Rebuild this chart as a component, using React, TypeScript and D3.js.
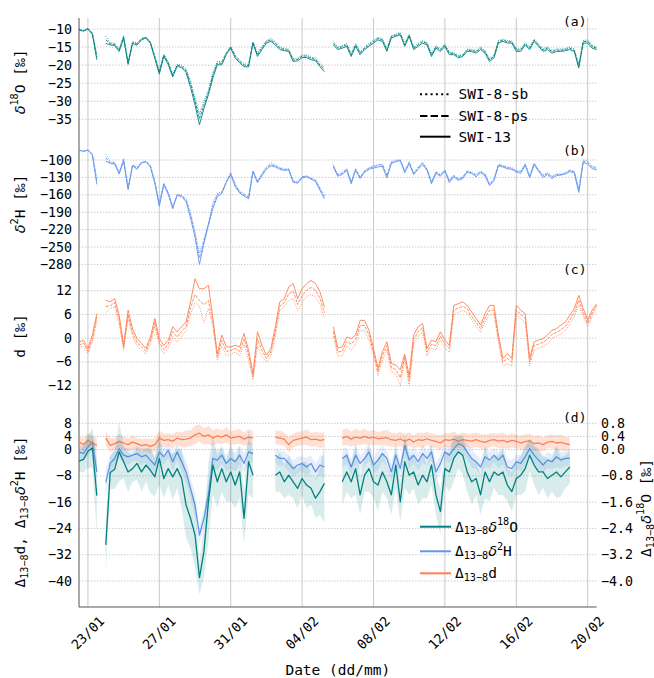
import React, { useEffect, useRef } from 'react';
import * as d3 from 'd3';

const W = 654;
const H = 678;
const left = 79;
const right = 596.6;
const top = 18;
const bottom = 607;

const TEAL = '#008080';
const BLUE = '#6495ED';
const CORAL = '#FF7F50';
const FONT = "'DejaVu Sans Mono', monospace";

// samples every 6 h starting 22/01 12:00
const startTime = Date.UTC(2024, 0, 22, 12);
const endTime = Date.UTC(2024, 1, 20, 12);
const sampleHours = 6;

const dateTicks = ['23/01', '27/01', '31/01', '04/02', '08/02', '12/02', '16/02', '20/02'];

const ticksA = [-10, -15, -20, -25, -30, -35];
const ticksB = [-100, -130, -160, -190, -220, -250, -280];
const ticksC = [12, 6, 0, -6, -12];
const ticksD = [8, 4, 0, -8, -16, -24, -32, -40];
const ticksDRight = [0.8, 0.4, 0.0, -0.8, -1.6, -2.4, -3.2, -4.0];

// (a) d18O
const d18O_13 = [
  -10.3, -10.6, -10.0, -11.5, -18.5, null, -14.0, -14.4, -14.6, -16.2,
  -12.5, -19.8, -14.0, -14.5, -13.0, -12.5, -14.0, -18.2, -22.5, -17.5,
  -19.8, -23.3, -20.3, -20.7, -22.0, -26.2, -31.0, -36.5, -32.0, -28.2,
  -23.6, -19.9, -19.9, -17.1, -15.3, -18.0, -19.4, -20.4, -20.5, -13.9,
  -17.6, -15.7, -13.9, -13.4, -14.4, -15.7, -16.0, -16.2, -19.0, -18.8,
  -17.9, -17.9, -18.5, -18.8, -20.4, -21.8, null, -14.4, -15.7, -15.3,
  -14.8, -17.6, -14.8, -17.1, -15.7, -14.8, -13.9, -13.0, -13.4, -16.2,
  -12.5, -12.0, -11.6, -14.8, -12.0, -15.7, -14.8, -13.9, -14.4, -17.6,
  -15.3, -16.2, -14.8, -17.1, -17.1, -18.0, -17.6, -16.2, -16.2, -16.7,
  -15.7, -16.7, -19.0, -18.0, -13.9, -13.4, -13.9, -13.9, -16.2, -16.2,
  -14.4, -15.7, -13.4, -14.8, -16.2, -15.7, -16.7, -16.2, -16.2, -16.0,
  -15.7, -16.2, -20.8, -13.9, -13.9, -15.3, -15.7,
];
const d18O_8sb = [
  -10.0, -10.4, -9.8, -11.0, -17.0, null, -12.0, -13.8, -14.0, -15.5,
  -11.8, -19.0, -13.5, -13.8, -12.6, -12.2, -13.5, -17.5, -21.5, -17.0,
  -19.0, -22.5, -19.8, -20.0, -21.0, -24.5, -29.0, -33.5, -30.0, -27.0,
  -22.0, -19.0, -19.0, -16.5, -14.8, -17.2, -18.6, -19.6, -19.8, -13.5,
  -16.8, -14.8, -13.2, -12.6, -13.6, -15.0, -15.4, -15.6, -18.2, -18.0,
  -17.2, -17.2, -17.8, -18.0, -19.6, -20.6, null, -13.5, -15.0, -14.6,
  -14.0, -16.8, -14.0, -16.4, -15.0, -14.0, -13.2, -12.3, -12.7, -15.4,
  -11.8, -11.4, -11.0, -14.0, -11.4, -15.0, -14.0, -13.2, -13.7, -16.8,
  -14.6, -15.5, -14.2, -16.4, -16.5, -17.3, -17.0, -15.6, -15.6, -16.0,
  -15.0, -16.0, -18.2, -17.3, -13.2, -12.8, -13.2, -13.3, -15.5, -15.5,
  -13.8, -15.0, -12.8, -14.2, -15.5, -15.0, -16.0, -15.5, -15.6, -15.4,
  -15.0, -15.6, -19.8, -13.2, -13.0, -14.6, -15.0,
];
const d18O_8ps = [
  -10.2, -10.5, -9.9, -11.3, -17.8, null, -13.0, -14.1, -14.3, -15.9,
  -12.2, -19.4, -13.8, -14.1, -12.8, -12.3, -13.7, -17.8, -22.0, -17.2,
  -19.4, -22.9, -20.0, -20.4, -21.5, -25.3, -30.0, -34.8, -31.0, -27.6,
  -22.8, -19.4, -19.5, -16.8, -15.0, -17.6, -19.0, -20.0, -20.1, -13.7,
  -17.2, -15.2, -13.5, -13.0, -14.0, -15.3, -15.7, -15.9, -18.6, -18.4,
  -17.5, -17.5, -18.1, -18.4, -20.0, -21.2, null, -14.0, -15.3, -14.9,
  -14.4, -17.2, -14.4, -16.7, -15.3, -14.4, -13.5, -12.6, -13.0, -15.8,
  -12.1, -11.7, -11.3, -14.4, -11.7, -15.3, -14.4, -13.5, -14.0, -17.2,
  -14.9, -15.8, -14.5, -16.7, -16.8, -17.6, -17.3, -15.9, -15.9, -16.3,
  -15.3, -16.3, -18.6, -17.6, -13.5, -13.1, -13.5, -13.6, -15.8, -15.8,
  -14.1, -15.3, -13.1, -14.5, -15.8, -15.3, -16.3, -15.8, -15.9, -15.7,
  -15.3, -15.9, -20.3, -13.5, -13.4, -14.9, -15.3,
];

// (b) d2H
const d2H_13 = [
  -83, -85, -83, -91, -142, null, -102, -106, -107, -124,
  -102, -151, -110, -116, -105, -103, -112, -141, -180, -142,
  -159, -184, -161, -163, -172, -200, -233, -280, -244, -212,
  -184, -163, -158, -139, -125, -146, -157, -162, -167, -120,
  -139, -127, -116, -110, -112, -116, -118, -117, -138, -140,
  -131, -129, -133, -137, -152, -167, null, -112, -128, -125,
  -118, -141, -118, -132, -121, -116, -114, -112, -111, -131,
  -106, -103, -101, -122, -106, -125, -116, -108, -118, -141,
  -123, -128, -119, -139, -129, -135, -132, -121, -123, -129,
  -122, -127, -144, -136, -110, -112, -115, -116, -121, -123,
  -109, -131, -108, -119, -130, -125, -132, -127, -126, -124,
  -120, -122, -156, -104, -107, -115, -117,
];
const d2H_8sb = [
  -83, -85, -82, -89, -132, null, -90, -103, -104, -121,
  -97, -147, -108, -112, -104, -102, -110, -137, -174, -140,
  -155, -180, -159, -160, -166, -190, -223, -260, -236, -209,
  -173, -158, -154, -137, -122, -141, -153, -158, -164, -119,
  -136, -123, -112, -105, -108, -113, -115, -115, -136, -137,
  -129, -127, -131, -134, -148, -160, null, -108, -125, -121,
  -114, -137, -114, -129, -118, -113, -110, -108, -107, -126,
  -103, -100, -100, -118, -103, -122, -112, -104, -114, -137,
  -120, -125, -116, -135, -126, -132, -129, -118, -120, -125,
  -119, -124, -140, -132, -107, -109, -112, -113, -118, -119,
  -106, -127, -105, -116, -126, -122, -128, -124, -124, -121,
  -117, -119, -150, -100, -101, -111, -112,
];
const d2H_8ps = [
  -83, -85, -83, -91, -137, null, -96, -105, -105, -123,
  -100, -149, -109, -114, -105, -102, -110, -138, -177, -141,
  -157, -182, -160, -162, -169, -195, -229, -269, -240, -211,
  -178, -160, -157, -138, -123, -143, -155, -160, -165, -119,
  -138, -125, -113, -108, -110, -114, -117, -116, -137, -139,
  -129, -128, -132, -135, -150, -163, null, -110, -126, -123,
  -116, -139, -116, -130, -119, -114, -112, -109, -108, -128,
  -104, -102, -100, -120, -104, -123, -114, -105, -116, -139,
  -121, -126, -118, -136, -127, -133, -130, -120, -122, -126,
  -120, -125, -142, -134, -108, -111, -113, -115, -119, -120,
  -108, -128, -107, -118, -127, -123, -129, -125, -125, -123,
  -118, -121, -153, -102, -104, -113, -114,
];

// (c) d-excess
const dex_13 = [
  -1.0, -0.5, -2.6, 0.8, 6.2, null, 9.6, 9.2, 10.0, 5.8,
  -1.8, 7.1, 2.4, -0.1, -1.3, -2.6, 0.3, 5.0, -0.1, -1.8,
  -0.5, 2.9, 1.6, 2.9, 4.1, 9.2, 15.0, 12.5, 12.5, 13.4,
  5.0, -3.9, 0.8, -2.2, -2.2, -1.8, -2.2, 1.2, -3.0, -9.0,
  1.6, -1.8, -4.3, -2.6, 2.9, 9.2, 10.0, 12.9, 13.8, 10.0,
  12.5, 13.8, 14.6, 13.8, 11.7, 7.9, null, 2.9, -2.5, -2.2,
  0.3, -0.1, 0.8, 4.5, 4.5, 2.0, -2.6, -7.6, -3.4, -0.9,
  -6.4, -6.8, -8.0, -4.0, -9.5, 0.8, 2.9, 3.7, -2.6, -0.5,
  -0.9, 1.6, -0.5, -1.8, 8.3, 8.7, 9.2, 8.3, 6.6, 5.0,
  3.3, 6.2, 8.3, 8.3, 0.8, -5.1, -3.9, -5.1, 8.3, 7.1,
  6.2, -5.1, -0.9, -0.5, -0.1, 0.8, 2.0, 2.4, 3.3, 4.1,
  5.8, 7.5, 10.8, 7.5, 4.5, 7.1, 8.7,
];
const dex_8sb = [
  -2.5, -2.0, -4.0, -1.0, 4.5, null, 6.5, 7.5, 8.0, 3.5,
  -3.0, 5.0, 0.5, -2.0, -3.0, -4.0, -1.5, 3.0, -2.0, -4.0,
  -2.5, 0.5, -1.0, 0.5, 2.0, 6.0, 9.0, 8.0, 4.0, 7.5,
  3.0, -5.5, -2.0, -4.5, -4.0, -3.5, -4.5, -1.5, -5.5, -10.5,
  -2.0, -4.5, -6.0, -4.5, 0.5, 7.0, 8.0, 9.5, 10.0, 7.0,
  9.0, 10.5, 11.0, 10.5, 8.5, 5.0, null, 0.5, -4.5, -4.5,
  -2.0, -3.0, -1.5, 2.0, 2.0, -0.5, -4.5, -9.5, -5.5, -3.0,
  -8.5, -9.0, -12.0, -5.5, -12.0, -1.5, 0.5, 1.5, -4.5, -2.5,
  -3.0, -0.5, -2.5, -3.5, 6.0, 6.5, 7.0, 6.5, 4.5, 3.0,
  1.5, 4.0, 6.0, 6.0, -1.0, -7.0, -6.5, -7.0, 6.0, 5.0,
  4.0, -7.0, -3.0, -2.5, -2.0, -1.5, 0.0, 0.5, 1.0, 2.0,
  3.5, 5.5, 8.5, 5.5, 3.0, 5.5, 8.0,
];
const dex_8ps = [
  -1.8, -1.2, -3.3, -0.2, 5.3, null, 8.0, 8.2, 9.0, 4.6,
  -2.4, 6.0, 1.4, -1.1, -2.2, -3.3, -0.6, 4.0, -1.0, -2.9,
  -1.5, 1.7, 0.3, 1.7, 3.0, 7.6, 11.0, 9.5, 8.5, 9.5,
  4.0, -4.7, -0.6, -3.3, -3.1, -2.6, -3.3, -0.2, -4.2, -9.8,
  -0.2, -3.1, -5.1, -3.5, 1.7, 8.1, 9.0, 11.2, 11.9, 8.5,
  10.7, 12.1, 12.8, 12.1, 10.1, 6.4, null, 1.7, -3.5, -3.3,
  -0.8, -1.5, -0.3, 3.2, 3.2, 0.8, -3.5, -8.5, -4.4, -1.9,
  -7.4, -7.9, -10.0, -4.7, -10.8, -0.3, 1.7, 2.6, -3.5, -1.5,
  -1.9, 0.5, -1.5, -2.6, 7.1, 7.6, 8.1, 7.4, 5.5, 4.0,
  2.4, 5.1, 7.1, 7.1, -0.1, -6.0, -5.1, -6.0, 7.1, 6.0,
  5.1, -6.0, -1.9, -1.5, -1.0, -0.3, 1.0, 1.4, 2.1, 3.0,
  4.6, 6.5, 9.6, 6.5, 3.7, 6.3, 8.3,
];

// (d) SWI-13 minus SWI-8 differences
const diffO = [
  -0.35, -0.3, -0.05, 0.05, -1.4, null, -2.9, -0.7, -0.6, -0.07,
  -0.37, -0.68, -0.58, -0.42, -0.68, -0.47, -0.63, -0.83, -0.27, -0.88,
  -0.58, -0.83, -0.58, -0.88, -1.69, -2.09, -2.6, -3.9, -3.1, -1.6,
  -0.47, -0.98, -0.58, -0.98, -0.68, -1.08, -0.68, -2.09, -0.37, -0.78,
  null, null, null, null, -0.78, -0.68, -0.98, -0.78, -0.98, -1.18,
  -0.88, -1.08, -1.18, -1.48, -1.28, -1.03, null, null, null, -0.98,
  -0.68, -0.98, -0.58, -1.38, -0.78, -0.58, -0.98, -1.08, -0.68, -0.98,
  -1.38, -0.47, -1.59, -0.37, -0.78, -0.68, -1.08, -0.78, -0.98, -0.47,
  -1.38, -1.89, -0.58, -0.68, -0.27, -0.07, -0.17, -0.68, -0.98, -0.88,
  -1.38, -0.68, -0.98, -0.68, -0.78, -0.68, -1.08, -1.28, -0.88, -0.78,
  -0.58, -0.17, -0.47, -0.68, -0.68, -0.88, -0.78, -0.68, -0.83, -0.68,
  -0.53, null, null, null, null, null, null,
];
const diffH = [
  -0.7, -1.2, 0.8, 2.3, -6.8, null, -10, -4.2, -2.7, 0.3,
  -1.7, -2.2, -1.7, -1.2, -2.2, -1.7, -3.2, -4.7, -0.7, -2.2,
  -0.2, -3.7, -0.7, -3.7, -6.8, -11.8, -16.9, -26, -20.9, -13.8,
  -2.7, -3.2, -1.7, -4.2, -2.7, -3.7, -1.7, -4.2, -0.7, -1.2,
  null, null, null, null, -1.7, -2.7, -2.7, -4.2, -5.8, -4.7,
  -4.2, -5.3, -4.2, -6.8, -4.7, -5.3, null, null, null, -2.7,
  -1.7, -5.3, -1.7, -4.2, -2.7, -0.7, -4.7, -3.2, -1.2, -2.7,
  -6.8, -1.7, -5.8, 1.3, -3.2, -1.7, -3.7, -1.2, -2.7, -0.7,
  -6.8, -4.2, -0.7, -1.7, 0.3, 1.8, 1.3, -0.7, -2.7, -3.7,
  -5.3, -2.2, -3.2, -1.7, -3.2, -1.7, -5.3, -5.8, -3.7, -4.2,
  -2.2, 0.3, -1.7, -3.2, -4.7, -3.2, -3.7, -2.2, -3.2, -2.7,
  -2.7, null, null, null, null, null, null,
];
const diffD = [
  2.3, 1.5, 2.8, 2.0, 1.3, null, 3.5, 1.3, 1.8, 2.5,
  2.0, 1.5, 2.3, 1.8, 1.2, 1.5, 1.0, 1.5, 3.5, 2.8,
  3.0, 2.5, 3.5, 3.0, 3.2, 3.5, 4.5, 5.0, 4.0, 4.5,
  3.5, 4.2, 3.8, 4.5, 3.5, 3.8, 4.0, 3.2, 3.8, 3.5,
  null, null, null, null, 3.8, 3.5, 3.2, 1.5, 2.8, 3.2,
  3.5, 3.8, 3.0, 3.2, 2.8, 3.0, null, null, null, 3.5,
  4.0, 3.2, 3.8, 3.5, 4.0, 3.5, 3.8, 3.3, 3.5, 3.6,
  3.0, 2.8, 3.3, 2.5, 3.2, 2.3, 3.0, 2.8, 3.3, 2.8,
  2.5, 2.0, 3.0, 2.8, 3.2, 2.5, 3.0, 2.8, 2.6, 3.0,
  2.5, 2.2, 2.8, 3.0, 2.6, 2.8, 2.3, 2.8, 2.5, 2.0,
  2.4, 2.7, 1.8, 2.0, 1.5, 2.3, 2.5, 2.0, 2.2, 1.8,
  1.5, null, null, null, null, null, null,
];
const sdO = [
  0.3, 0.4, 0.5, 0.6, 1.2, 0, 0.8, 0.5, 0.6, 0.9,
  0.5, 0.6, 0.4, 0.5, 0.6, 0.5, 0.7, 0.6, 0.8, 0.6,
  0.5, 0.7, 0.6, 0.9, 1.0, 0.9, 1.0, 0.5, 0.8, 1.2,
  0.9, 0.8, 0.7, 0.6, 0.9, 0.7, 0.8, 0.8, 1.0, 0.7,
  0, 0, 0, 0, 0.5, 0.6, 0.5, 0.6, 0.5, 0.6,
  0.5, 0.7, 0.5, 0.6, 0.7, 1.2, 0, 0, 0, 0.7,
  0.6, 0.5, 0.8, 0.6, 0.5, 0.7, 0.5, 0.8, 0.6, 0.5,
  0.6, 0.7, 0.6, 0.8, 0.6, 0.5, 0.6, 0.7, 0.5, 0.6,
  0.6, 0.7, 0.5, 0.6, 0.7, 0.5, 0.6, 0.6, 0.7, 0.5,
  0.6, 0.8, 0.6, 0.5, 0.6, 0.7, 0.5, 0.6, 0.5, 0.6,
  0.7, 0.5, 0.6, 0.7, 0.5, 0.6, 0.5, 0.8, 0.6, 0.5,
  0.5, 0, 0, 0, 0, 0, 0,
];
const sdH = [
  2.0, 2.2, 2.5, 2.8, 3.5, 0, 4.0, 2.6, 2.4, 3.0,
  2.2, 2.5, 2.0, 2.3, 2.6, 2.2, 2.8, 2.5, 3.0, 2.4,
  2.2, 2.8, 2.4, 3.0, 3.5, 3.2, 3.6, 2.5, 3.0, 4.0,
  3.2, 3.0, 2.6, 2.4, 3.2, 2.8, 3.0, 3.0, 3.4, 2.6,
  0, 0, 0, 0, 2.2, 2.4, 2.2, 2.6, 2.4, 2.6,
  2.2, 2.8, 2.4, 2.6, 2.8, 3.5, 0, 0, 0, 2.8,
  2.5, 2.2, 3.0, 2.5, 2.2, 2.8, 2.4, 3.0, 2.5, 2.2,
  2.6, 2.8, 2.5, 3.0, 2.6, 2.2, 2.5, 2.8, 2.2, 2.5,
  2.6, 2.8, 2.2, 2.5, 2.8, 2.2, 2.5, 2.5, 2.8, 2.2,
  2.5, 3.0, 2.5, 2.2, 2.5, 2.8, 2.2, 2.5, 2.2, 2.5,
  2.8, 2.2, 2.5, 2.8, 2.2, 2.5, 2.2, 3.0, 2.5, 2.2,
  2.2, 0, 0, 0, 0, 0, 0,
];
const sdD = [
  1.8, 2.0, 2.2, 1.9, 2.3, 0, 2.4, 2.0, 1.8, 2.2,
  2.0, 1.9, 2.1, 1.8, 2.0, 1.9, 2.2, 2.0, 2.4, 2.1,
  1.9, 2.2, 2.0, 2.3, 2.5, 2.4, 2.8, 2.6, 2.5, 2.7,
  2.3, 2.2, 2.0, 2.4, 2.1, 2.2, 2.3, 2.0, 2.4, 2.2,
  0, 0, 0, 0, 2.0, 2.2, 2.0, 2.3, 2.1, 2.2,
  2.0, 2.4, 2.1, 2.2, 2.3, 2.2, 0, 0, 0, 2.4,
  2.6, 2.3, 2.5, 2.2, 2.4, 2.1, 2.3, 2.0, 2.2, 2.4,
  2.1, 2.0, 2.2, 2.3, 2.1, 2.0, 2.2, 2.3, 2.0, 2.2,
  2.1, 2.3, 2.0, 2.2, 2.4, 2.1, 2.2, 2.0, 2.3, 2.1,
  2.2, 2.4, 2.1, 2.0, 2.2, 2.3, 2.1, 2.2, 2.0, 2.2,
  2.3, 2.1, 2.2, 2.4, 2.1, 2.0, 2.2, 2.3, 2.4, 2.2,
  2.1, 0, 0, 0, 0, 0, 0,
];

type Part = [string, string?];

const minus = (s: string) => s.replace('-', '\u2212');

function rich(text: any, parts: Part[], size: number) {
  let shift = 0;
  parts.forEach(([s, kind]) => {
    const ts = text.append('tspan').text(s);
    let target = 0;
    if (kind === 'sup') {
      target = -size * 0.4;
      ts.attr('font-size', size * 0.7);
    } else if (kind === 'sub') {
      target = size * 0.25;
      ts.attr('font-size', size * 0.7);
    } else if (kind === 'it') {
      ts.attr('font-style', 'italic').attr('font-family', "'DejaVu Sans', sans-serif");
    }
    ts.attr('dy', target - shift);
    shift = target;
  });
}

const App = () => {
  const ref = useRef<SVGSVGElement>(null);

  useEffect(() => {
    if (!ref.current) return;
    const svg = d3.select(ref.current);
    svg.selectAll('*').remove();

    const x = d3.scaleUtc().domain([new Date(startTime), new Date(endTime)]).range([left, right]);
    const tx = (i: number) => x(new Date(startTime + i * sampleHours * 3600 * 1000));

    const yA = d3.scaleLinear().domain([-10, -35]).range([29, 119.3]);
    const yB = d3.scaleLinear().domain([-100, -280]).range([160, 264.4]);
    const yC = d3.scaleLinear().domain([12, -12]).range([290.7, 385.7]);
    const yD = d3.scaleLinear().domain([8, -40]).range([423.3, 581]);
    const yDR = d3.scaleLinear().domain([0.8, -4.0]).range([423.3, 581]);

    const grid = svg.append('g');
    // horizontal dotted grid
    const hgrid = (ticks: number[], y: d3.ScaleLinear<number, number>) => {
      grid
        .selectAll(null)
        .data(ticks)
        .enter()
        .append('line')
        .attr('x1', left)
        .attr('x2', right)
        .attr('y1', (d) => y(d))
        .attr('y2', (d) => y(d))
        .attr('stroke', '#b8b8b8')
        .attr('stroke-width', 0.7)
        .attr('stroke-dasharray', '1.5 1.5');
    };
    hgrid(ticksA, yA);
    hgrid(ticksB, yB);
    hgrid(ticksC, yC);
    hgrid(ticksD, yD);

    const tickDates = dateTicks.map((s) => {
      const [dd, mm] = s.split('/').map(Number);
      return new Date(Date.UTC(2024, mm - 1, dd));
    });
    grid
      .selectAll(null)
      .data(tickDates)
      .enter()
      .append('line')
      .attr('x1', (d) => x(d))
      .attr('x2', (d) => x(d))
      .attr('y1', top)
      .attr('y2', bottom)
      .attr('stroke', '#c8c8c8')
      .attr('stroke-width', 1);

    // spines
    svg.append('line').attr('x1', left).attr('x2', left).attr('y1', top).attr('y2', bottom).attr('stroke', '#555').attr('stroke-width', 1);
    svg.append('line').attr('x1', left).attr('x2', right).attr('y1', bottom).attr('y2', bottom).attr('stroke', '#555').attr('stroke-width', 1);

    const plot = svg.append('g');
    const drawLine = (vals: (number | null)[], y: d3.ScaleLinear<number, number>, color: string, dash: string | null, width: number) => {
      const gen = d3
        .line<number | null>()
        .defined((v) => v != null)
        .x((_, i) => tx(i))
        .y((v) => y(v as number));
      plot
        .append('path')
        .attr('d', gen(vals))
        .attr('fill', 'none')
        .attr('stroke', color)
        .attr('stroke-width', width)
        .attr('stroke-linejoin', 'round')
        .attr('stroke-dasharray', dash);
    };
    const drawBand = (vals: (number | null)[], sd: number[], y: d3.ScaleLinear<number, number>, color: string, opacity: number) => {
      const gen = d3
        .area<number | null>()
        .defined((v) => v != null)
        .x((_, i) => tx(i))
        .y0((v, i) => y((v as number) - sd[i]))
        .y1((v, i) => y((v as number) + sd[i]));
      plot.append('path').attr('d', gen(vals)).attr('fill', color).attr('fill-opacity', opacity);
    };

    const DOT = '0.9 1.4';
    const DASH = '3 1.3';
    const LW = 0.9;
    // (a)
    drawLine(d18O_8sb, yA, TEAL, DOT, LW);
    drawLine(d18O_8ps, yA, TEAL, DASH, LW);
    drawLine(d18O_13, yA, TEAL, null, LW);
    // (b)
    drawLine(d2H_8sb, yB, BLUE, DOT, LW);
    drawLine(d2H_8ps, yB, BLUE, DASH, LW);
    drawLine(d2H_13, yB, BLUE, null, LW);
    // (c)
    drawLine(dex_8sb, yC, CORAL, DOT, LW);
    drawLine(dex_8ps, yC, CORAL, DASH, LW);
    drawLine(dex_13, yC, CORAL, null, LW);
    // (d)
    drawBand(diffH, sdH, yD, BLUE, 0.16);
    drawLine(diffH, yD, BLUE, null, 1.3);
    drawBand(diffD, sdD, yD, CORAL, 0.24);
    drawLine(diffD, yD, CORAL, null, 1.3);
    drawBand(diffO, sdO, yDR, TEAL, 0.15);
    drawLine(diffO, yDR, TEAL, null, 1.3);

    const txt = svg.append('g').attr('font-family', FONT).attr('fill', '#000');

    // y tick labels
    const yLabels = (ticks: number[], y: d3.ScaleLinear<number, number>, fmt: (v: number) => string, xPos: number, anchor: string) => {
      txt
        .selectAll(null)
        .data(ticks)
        .enter()
        .append('text')
        .attr('x', xPos)
        .attr('y', (d) => y(d))
        .attr('text-anchor', anchor)
        .attr('dominant-baseline', 'central')
        .attr('font-size', 13.3)
        .text((d) => minus(fmt(d)));
    };
    yLabels(ticksA, yA, String, 72, 'end');
    yLabels(ticksB, yB, String, 72, 'end');
    yLabels(ticksC, yC, String, 72, 'end');
    yLabels(ticksD, yD, String, 72, 'end');
    yLabels(ticksDRight, yDR, (v) => v.toFixed(1), 601, 'start');

    // x tick labels
    txt
      .selectAll(null)
      .data(tickDates)
      .enter()
      .append('text')
      .attr('transform', (d) => `translate(${x(d)},633) rotate(-45)`)
      .attr('text-anchor', 'middle')
      .attr('dominant-baseline', 'central')
      .attr('font-size', 13.3)
      .text((_, i) => dateTicks[i]);

    txt
      .append('text')
      .attr('x', (left + right) / 2)
      .attr('y', 670)
      .attr('text-anchor', 'middle')
      .attr('dominant-baseline', 'central')
      .attr('font-size', 14.5)
      .text('Date (dd/mm)');

    // panel letters
    [['(a)', 21], ['(b)', 150], ['(c)', 269], ['(d)', 417]].forEach(([s, y]) => {
      txt
        .append('text')
        .attr('x', 586.5)
        .attr('y', y as number)
        .attr('text-anchor', 'end')
        .attr('dominant-baseline', 'central')
        .attr('font-size', 13)
        .text(s as string);
    });

    // axis labels
    const yTitle = (cx: number, cy: number, parts: Part[]) => {
      const t = txt
        .append('text')
        .attr('transform', `translate(${cx},${cy}) rotate(-90)`)
        .attr('text-anchor', 'middle')
        .attr('dominant-baseline', 'central')
        .attr('font-size', 14.5);
      rich(t, parts, 14.5);
    };
    yTitle(20, 82, [['\u03B4', 'it'], ['18', 'sup'], ['O [\u2030]']]);
    yTitle(20, 204, [['\u03B4', 'it'], ['2', 'sup'], ['H [\u2030]']]);
    yTitle(20, 336, [['d [\u2030]']]);
    yTitle(20, 512, [['\u0394'], ['13\u22128', 'sub'], ['d, \u0394'], ['13\u22128', 'sub'], ['\u03B4', 'it'], ['2', 'sup'], ['H [\u2030]']]);
    yTitle(646, 508, [['\u0394'], ['13\u22128', 'sub'], ['\u03B4', 'it'], ['18', 'sup'], ['O [\u2030]']]);

    // legend 1 (line styles)
    const leg1 = [
      ['SWI-8-sb', '2 3.3', 94.3],
      ['SWI-8-ps', '7.4 3.2', 116],
      ['SWI-13', null, 136.7],
    ];
    leg1.forEach(([label, dash, y]) => {
      svg
        .append('line')
        .attr('x1', 420)
        .attr('x2', 450.5)
        .attr('y1', y as number)
        .attr('y2', y as number)
        .attr('stroke', '#000')
        .attr('stroke-width', 2)
        .attr('stroke-dasharray', dash as string | null);
      txt
        .append('text')
        .attr('x', 458.5)
        .attr('y', y as number)
        .attr('dominant-baseline', 'central')
        .attr('font-size', 14.5)
        .text(label as string);
    });

    // legend 2 (differences)
    const leg2: [string, number, Part[]][] = [
      [TEAL, 526.7, [['\u0394'], ['13\u22128', 'sub'], ['\u03B4', 'it'], ['18', 'sup'], ['O']]],
      [BLUE, 551.3, [['\u0394'], ['13\u22128', 'sub'], ['\u03B4', 'it'], ['2', 'sup'], ['H']]],
      [CORAL, 573.3, [['\u0394'], ['13\u22128', 'sub'], ['d']]],
    ];
    leg2.forEach(([color, y, parts]) => {
      svg
        .append('line')
        .attr('x1', 420)
        .attr('x2', 451)
        .attr('y1', y)
        .attr('y2', y)
        .attr('stroke', color)
        .attr('stroke-width', 2);
      const t = txt
        .append('text')
        .attr('x', 455)
        .attr('y', y)
        .attr('dominant-baseline', 'central')
        .attr('font-size', 14.5);
      rich(t, parts, 14.5);
    });
  }, []);

  return (
    <svg
      ref={ref}
      width={W}
      height={H}
      style={{ position: 'absolute', left: 0, top: 0, background: '#fff' }}
    />
  );
};

export default App;
